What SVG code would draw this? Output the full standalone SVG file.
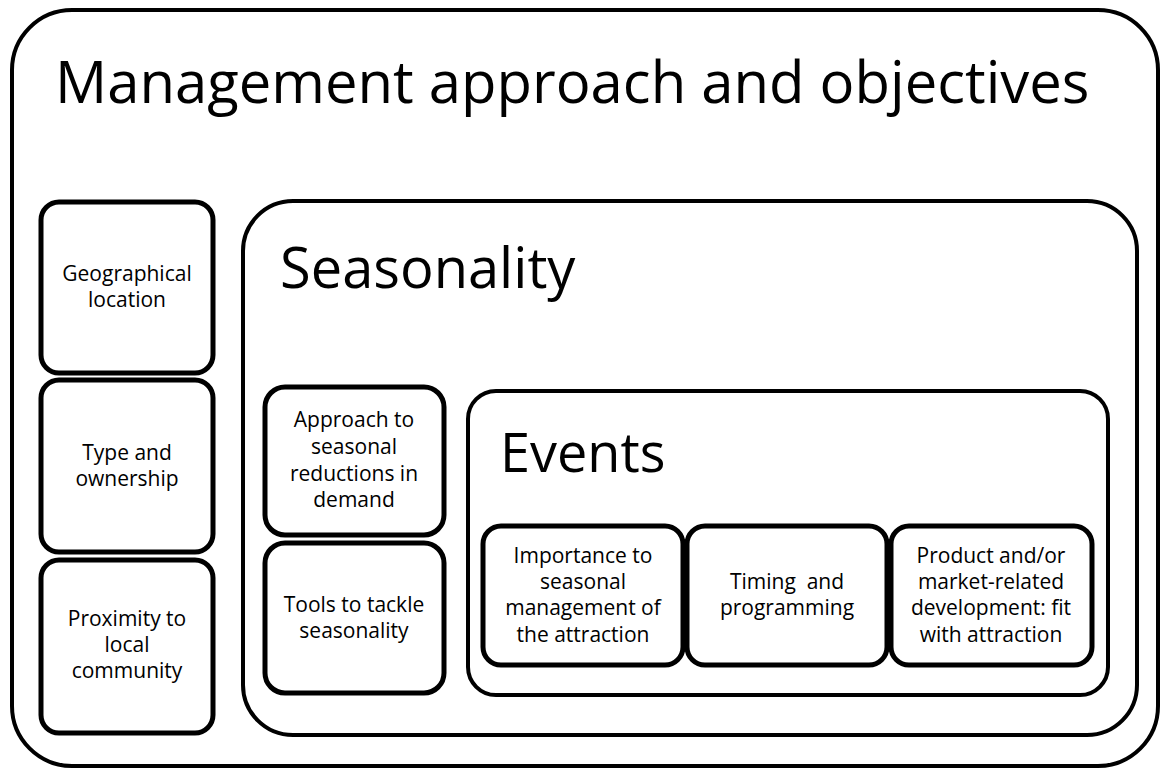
<svg xmlns="http://www.w3.org/2000/svg" width="1161" height="769" viewBox="0 0 1161 769">
<style>
.box{fill:#fff;stroke:#000;stroke-width:5}
.frame{fill:#fff;stroke:#000;stroke-width:4}
.big{font-family:"Open Sans","Noto Sans",sans-serif;fill:#000}
.lbl{font-family:"Open Sans","Noto Sans",sans-serif;font-size:21px;fill:#000;text-anchor:middle}
</style>
<rect width="1161" height="769" fill="#fff"/>
<g id="management">
<rect class="frame" x="12" y="10" width="1146" height="756" rx="60" ry="60"/>
<text class="big" x="55" y="103" font-size="58">Management approach and objectives</text>
</g>
<g id="geographical">
<rect class="box" x="41" y="202" width="172" height="171" rx="18" ry="18"/>
<text class="lbl" x="127" y="281">Geographical</text>
<text class="lbl" x="127" y="307">location</text>
</g>
<g id="type">
<rect class="box" x="41" y="380" width="172" height="172" rx="18" ry="18"/>
<text class="lbl" x="127" y="460">Type and</text>
<text class="lbl" x="127" y="486">ownership</text>
</g>
<g id="proximity">
<rect class="box" x="41" y="560" width="172" height="173" rx="18" ry="18"/>
<text class="lbl" x="127" y="626">Proximity to</text>
<text class="lbl" x="127" y="652">local</text>
<text class="lbl" x="127" y="678">community</text>
</g>
<g id="seasonality">
<rect class="frame" x="243" y="201" width="894" height="534" rx="50" ry="50"/>
<text class="big" x="280" y="288" font-size="56">Seasonality</text>
</g>
<g id="approach">
<rect class="box" x="265" y="387" width="179" height="148" rx="20" ry="20"/>
<text class="lbl" x="354" y="427">Approach to</text>
<text class="lbl" x="354" y="454">seasonal</text>
<text class="lbl" x="354" y="481">reductions in</text>
<text class="lbl" x="354" y="507">demand</text>
</g>
<g id="tools">
<rect class="box" x="265" y="543" width="179" height="150" rx="20" ry="20"/>
<text class="lbl" x="354" y="612">Tools to tackle</text>
<text class="lbl" x="354" y="638">seasonality</text>
</g>
<g id="events">
<rect class="frame" x="468" y="391" width="640" height="304" rx="28" ry="28"/>
<text class="big" x="500" y="472" font-size="54">Events</text>
</g>
<g id="importance">
<rect class="box" x="483" y="526" width="200" height="139" rx="18" ry="18"/>
<text class="lbl" x="583" y="563">Importance to</text>
<text class="lbl" x="583" y="589">seasonal</text>
<text class="lbl" x="583" y="615">management of</text>
<text class="lbl" x="583" y="642">the attraction</text>
</g>
<g id="timing">
<rect class="box" x="687" y="526" width="200" height="139" rx="18" ry="18"/>
<text class="lbl" x="787" y="589" xml:space="preserve">Timing  and</text>
<text class="lbl" x="787" y="615">programming</text>
</g>
<g id="product">
<rect class="box" x="891" y="526" width="201" height="139" rx="18" ry="18"/>
<text class="lbl" x="991" y="563">Product and/or</text>
<text class="lbl" x="991" y="589">market-related</text>
<text class="lbl" x="991" y="615">development: fit</text>
<text class="lbl" x="991" y="642">with attraction</text>
</g>
<g id="connectors"/>
</svg>
